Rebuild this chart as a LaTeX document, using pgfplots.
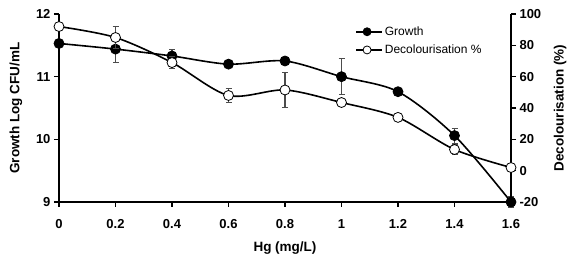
\documentclass[border=0pt]{standalone}
\usepackage{pgfplots}
\pgfplotsset{compat=1.18}
\usepackage{fontspec}
\setmainfont{Liberation Sans}
\begin{document}
\begin{tikzpicture}
\pgfplotsset{
  common/.style={scale only axis, width=452pt, height=188pt, xmin=0, xmax=1.6,
    tick align=outside, major tick length=5pt,
    axis line style={line width=1.4pt,-}, tick style={line width=1.4pt,black},
    ticklabel style={font=\bfseries\fontsize{13}{15}\selectfont},
    label style={font=\bfseries\fontsize{13.5}{15}\selectfont},
    /pgf/number format/assume math mode=true, clip=false},
  errb/.style={error bars/.cd, y dir=both, y explicit,
    error bar style={line width=1.1pt, gray!60!black},
    error mark options={rotate=90, mark size=3pt, line width=1.1pt, gray!60!black}},
}
\begin{axis}[common, name=a, ymin=9, ymax=12,
  axis y line*=left, axis x line*=bottom,
  xtick={0,0.2,0.4,0.6,0.8,1,1.2,1.4,1.6},
  xticklabels={0,0.2,0.4,0.6,0.8,1,1.2,1.4,1.6},
  xticklabel shift=9pt,
  ytick={9,10,11,12},
  xlabel={Hg (mg/L)}, ylabel={Growth Log CFU/mL},
  xlabel style={at={(axis description cs:0.5,0)}, anchor=center, yshift=-46pt},
  ylabel style={at={(axis description cs:0,0.5)}, anchor=center, rotate=0, yshift=43pt}]
\addplot[black, line width=1.6pt, smooth, mark=*, mark size=5pt,
  mark options={solid, fill=black, line width=0.8pt},
  errb] table[x=x, y=y, y error=e] {
x y e
0 11.53 0.03
0.2 11.44 0.21
0.4 11.33 0.1
0.6 11.2 0.05
0.8 11.25 0.04
1.0 11.0 0.29
1.2 10.76 0.04
1.4 10.06 0.12
1.6 9.0 0.08
};
\end{axis}
\begin{axis}[common, ymin=-20, ymax=100,
  axis y line*=right, axis x line=none,
  ytick={-20,0,20,40,60,80,100},
  ylabel={Decolourisation (\%)},
  ylabel style={at={(axis description cs:1,0.5)}, anchor=center, yshift=-49pt},
  legend style={draw=none, fill=none, at={(0.655,0.955)}, anchor=north west,
    font=\fontsize{12}{13}\selectfont, row sep=4pt, inner xsep=0pt},
  legend image code/.code={\draw[#1] (0pt,0pt) -- (26pt,0pt); \draw[#1, mark size=4pt] plot coordinates {(11pt,0pt)};},
  legend cell align=left]
\addlegendimage{black, line width=1.6pt, mark=*, mark options={fill=black, line width=0.8pt}}
\addlegendentry{Growth}
\addplot[black, line width=1.6pt, smooth, mark=*, mark size=5pt,
  mark options={solid, fill=white, line width=0.8pt},
  errb] table[x=x, y=y, y error=e] {
x y e
0 92 1
0.2 85 7
0.4 69 3.6
0.6 48 4.7
0.8 51.5 11
1.0 43.5 2
1.2 34 1.5
1.4 13.5 3.4
1.6 2 1
};
\addlegendentry{Decolourisation \%}
\end{axis}
\pgfresetboundingbox
\path[use as bounding box] (a.south west) ++(-59pt,-62pt) rectangle ++(580pt,264pt);
\end{tikzpicture}
\end{document}
